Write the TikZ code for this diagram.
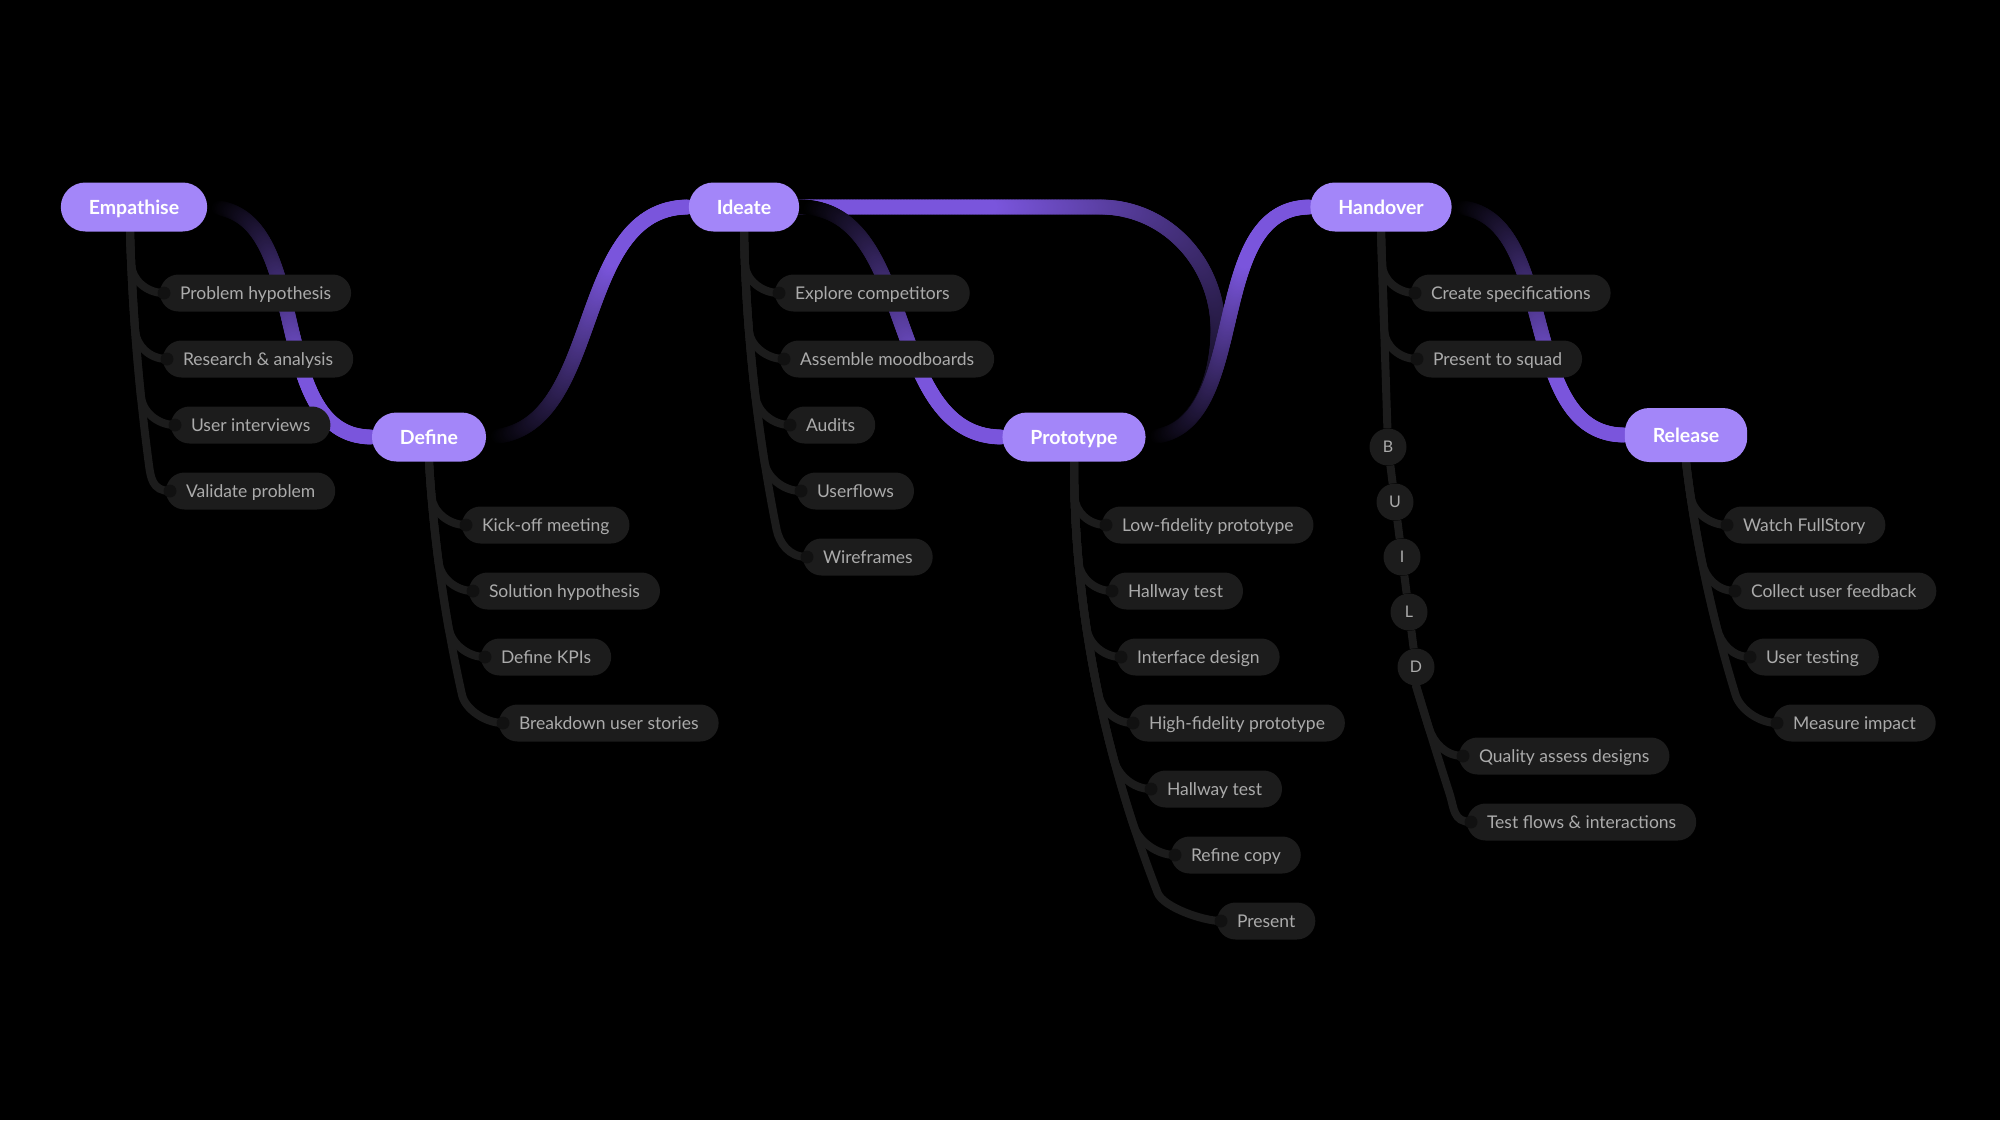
\documentclass[tikz,border=0pt]{standalone}
\usepackage{fontspec}
\setmainfont{Lato}
\usetikzlibrary{calc}
\usetikzlibrary{backgrounds}
\usetikzlibrary{decorations.markings}

\definecolor{stagefill}{HTML}{A386F9}
\definecolor{purp}{HTML}{7A55DC}
\definecolor{pillfill}{HTML}{1C1C1C}
\definecolor{pilltext}{HTML}{ABABAB}
\definecolor{dotfill}{HTML}{111111}

\begin{document}
\begin{tikzpicture}[x=1pt, y=-1pt,
    stage/.style={rectangle, rounded corners=24.5pt, fill=stagefill, text=white,
        minimum height=49pt, inner xsep=28pt, text height=17pt, text depth=3pt,
        font=\fontsize{19.5}{22}\selectfont\bfseries},
    task/.style={rectangle, rounded corners=18.5pt, fill=pillfill, text=pilltext,
        minimum height=37pt, inner xsep=20pt, text height=15pt, text depth=2.5pt,
        outer xsep=-4pt, anchor=west, font=\fontsize{17.5}{20}\selectfont},
    letter/.style={circle, fill=pillfill, text=pilltext, minimum size=37pt,
        inner sep=0pt, font=\fontsize{16}{18}\selectfont},
    % trunk drifts right (slope #1, bend #2), then forks off to the task
    twig/.style 2 args={draw=pillfill, line width=8pt, line cap=round,
        to path={let \p1=(\tikztostart), \p2=(\tikztotarget),
            \n1={\y1-\y2-28pt}, \n2={#2*(\n1/100)*(\n1/100)} in
            .. controls ({\x1+#1*\n1/3}, {\y1-\n1/3})
            and ({\x1+2*#1*\n1/3+\n2/3}, {\y1-2*\n1/3})
            .. ({\x1+#1*\n1+\n2}, {\y2+28pt})
            .. controls ({\x1+#1*\n1+\n2+14*(#1+#2*\n1/5000)}, {\y2+14pt}) and ({\x2-18pt}, {\y2})
            .. (\tikztotarget)}},
    fade/.style={postaction={decorate, decoration={markings,
        mark=between positions 0 and 1 step 1.5pt with {
            \pgfmathsetmacro{\fr}{max(0,min(100,150*(\pgfkeysvalueof{/pgf/decoration/mark info/distance from start}/\pgfdecoratedpathlength)-5))}
            \fill[purp!\fr!black] (0,0) circle [radius=7.5pt];
        }}}}
]
    \useasboundingbox (0,0) rectangle (2000,1120);

    % ---- Stages ----
    \node [stage] (emp) at (134,207) {Empathise};
    \node [stage] (def) at (429,437) {Define};
    \node [stage] (ide) at (744,207) {Ideate};
    \node [stage] (pro) at (1074,437) {Prototype};
    \node [stage] (han) at (1381,207) {Handover};
    \node [stage, minimum height=54pt] (rel) at (1686,435) {Release};

    % ---- Tasks ----
    % Empathise
    \node [task] (ph) at (164,293) {Problem hypothesis};
    \node [task] (ra) at (167,359) {Research \& analysis};
    \node [task] (ui) at (175,425) {User interviews};
    \node [task] (vp) at (170,491) {Validate problem};

    % Define
    \node [task] (km) at (466,525) {Kick-off meeting};
    \node [task] (sh) at (473,591) {Solution hypothesis};
    \node [task] (dk) at (485,657) {Define KPIs};
    \node [task] (bu) at (503,723) {Breakdown user stories};

    % Ideate
    \node [task] (ec) at (779,293) {Explore competitors};
    \node [task] (am) at (784,359) {Assemble moodboards};
    \node [task] (au) at (790,425) {Audits};
    \node [task] (uf) at (801,491) {Userflows};
    \node [task] (wf) at (807,557) {Wireframes};

    % Prototype
    \node [task] (lf) at (1106,525) {Low-fidelity prototype};
    \node [task] (ht) at (1112,591) {Hallway test};
    \node [task] (id) at (1121,657) {Interface design};
    \node [task] (hf) at (1133,723) {High-fidelity prototype};
    \node [task] (hu) at (1151,789) {Hallway test};
    \node [task] (rc) at (1175,855) {Refine copy};
    \node [task] (pr) at (1221,921) {Present};

    % Handover
    \node [task] (cs) at (1415,293) {Create specifications};
    \node [task] (ps) at (1417,359) {Present to squad};
    \node [letter] (bB) at (1388,447) {B};
    \node [letter] (bU) at (1395,502) {U};
    \node [letter] (bI) at (1402,557) {I};
    \node [letter] (bL) at (1409,612) {L};
    \node [letter] (bD) at (1416,667) {D};
    \node [task] (qa) at (1463,756) {Quality assess designs};
    \node [task] (tf) at (1471,822) {Test flows \& interactions};

    % Release
    \node [task] (wf2) at (1727,525) {Watch FullStory};
    \node [task] (cf) at (1735,591) {Collect user feedback};
    \node [task] (ut) at (1750,657) {User testing};
    \node [task] (mi) at (1777,723) {Measure impact};

    % Dots at the end of each twig
    \fill [dotfill] (ph.west) circle [radius=6.5pt];
    \fill [dotfill] (ra.west) circle [radius=6.5pt];
    \fill [dotfill] (ui.west) circle [radius=6.5pt];
    \fill [dotfill] (vp.west) circle [radius=6.5pt];
    \fill [dotfill] (km.west) circle [radius=6.5pt];
    \fill [dotfill] (sh.west) circle [radius=6.5pt];
    \fill [dotfill] (dk.west) circle [radius=6.5pt];
    \fill [dotfill] (bu.west) circle [radius=6.5pt];
    \fill [dotfill] (ec.west) circle [radius=6.5pt];
    \fill [dotfill] (am.west) circle [radius=6.5pt];
    \fill [dotfill] (au.west) circle [radius=6.5pt];
    \fill [dotfill] (uf.west) circle [radius=6.5pt];
    \fill [dotfill] (wf.west) circle [radius=6.5pt];
    \fill [dotfill] (lf.west) circle [radius=6.5pt];
    \fill [dotfill] (ht.west) circle [radius=6.5pt];
    \fill [dotfill] (id.west) circle [radius=6.5pt];
    \fill [dotfill] (hf.west) circle [radius=6.5pt];
    \fill [dotfill] (hu.west) circle [radius=6.5pt];
    \fill [dotfill] (rc.west) circle [radius=6.5pt];
    \fill [dotfill] (pr.west) circle [radius=6.5pt];
    \fill [dotfill] (cs.west) circle [radius=6.5pt];
    \fill [dotfill] (ps.west) circle [radius=6.5pt];
    \fill [dotfill] (qa.west) circle [radius=6.5pt];
    \fill [dotfill] (tf.west) circle [radius=6.5pt];
    \fill [dotfill] (wf2.west) circle [radius=6.5pt];
    \fill [dotfill] (cf.west) circle [radius=6.5pt];
    \fill [dotfill] (ut.west) circle [radius=6.5pt];
    \fill [dotfill] (mi.west) circle [radius=6.5pt];

    \begin{scope}[on background layer]
        \fill [black] (0,0) rectangle (2000,1120);

        % Twigs
        \draw [twig={0.03}{2.2}] ([xshift=-4pt]emp.south) to (ph.west);
        \draw [twig={0.03}{2.2}] ([xshift=-4pt]emp.south) to (ra.west);
        \draw [twig={0.03}{2.2}] ([xshift=-4pt]emp.south) to (ui.west);
        \draw [twig={0.03}{2.2}] ([xshift=-4pt]emp.south) to (vp.west);

        \draw [twig={0.06}{3.5}] (def.south) to (km.west);
        \draw [twig={0.06}{3.5}] (def.south) to (sh.west);
        \draw [twig={0.06}{3.5}] (def.south) to (dk.west);
        \draw [twig={0.06}{3.5}] (def.south) to (bu.west);

        \draw [twig={0.02}{3}] (ide.south) to (ec.west);
        \draw [twig={0.02}{3}] (ide.south) to (am.west);
        \draw [twig={0.02}{3}] (ide.south) to (au.west);
        \draw [twig={0.02}{3}] (ide.south) to (uf.west);
        \draw [twig={0.02}{3}] (ide.south) to (wf.west);

        \draw [twig={0}{4.5}] (pro.south) to (lf.west);
        \draw [twig={0}{4.5}] (pro.south) to (ht.west);
        \draw [twig={0}{4.5}] (pro.south) to (id.west);
        \draw [twig={0}{4.5}] (pro.south) to (hf.west);
        \draw [twig={0}{4.5}] (pro.south) to (hu.west);
        \draw [twig={0}{4.5}] (pro.south) to (rc.west);
        \draw [twig={0}{4.5}] (pro.south) to (pr.west);

        \draw [twig={0.033}{0}] (han.south) to (cs.west);
        \draw [twig={0.033}{0}] (han.south) to (ps.west);
        \draw [draw=pillfill, line width=8pt] (han.south) -- (bB) -- (bU) -- (bI) -- (bL) -- (bD);
        \draw [twig={0.3}{1}] (bD.south) to (qa.west);
        \draw [twig={0.3}{1}] (bD.south) to (tf.west);

        \draw [twig={0.12}{4}] (rel.south) to (wf2.west);
        \draw [twig={0.12}{4}] (rel.south) to (cf.west);
        \draw [twig={0.12}{4}] (rel.south) to (ut.west);
        \draw [twig={0.12}{4}] (rel.south) to (mi.west);

        % Main path (dark at start, purple at end)
        \coordinate (loopR) at (1218,330);
        \coordinate (loopT) at (1100,207);
        \path [fade] (pro.east) to[out=0, in=-90] (loopR) to[out=90, in=0] (loopT) -- (ide.east);
        \path [fade] (emp.east) to[out=0, in=180] (def.west);
        \path [fade] (def.east) to[out=0, in=180] (ide.west);
        \path [fade] (ide.east) to[out=0, in=180] (pro.west);
        \path [fade] (pro.east) to[out=0, in=180] (han.west);
        \path [fade] (han.east) to[out=0, in=180] (rel.west);
    \end{scope}
\end{tikzpicture}
\end{document}
